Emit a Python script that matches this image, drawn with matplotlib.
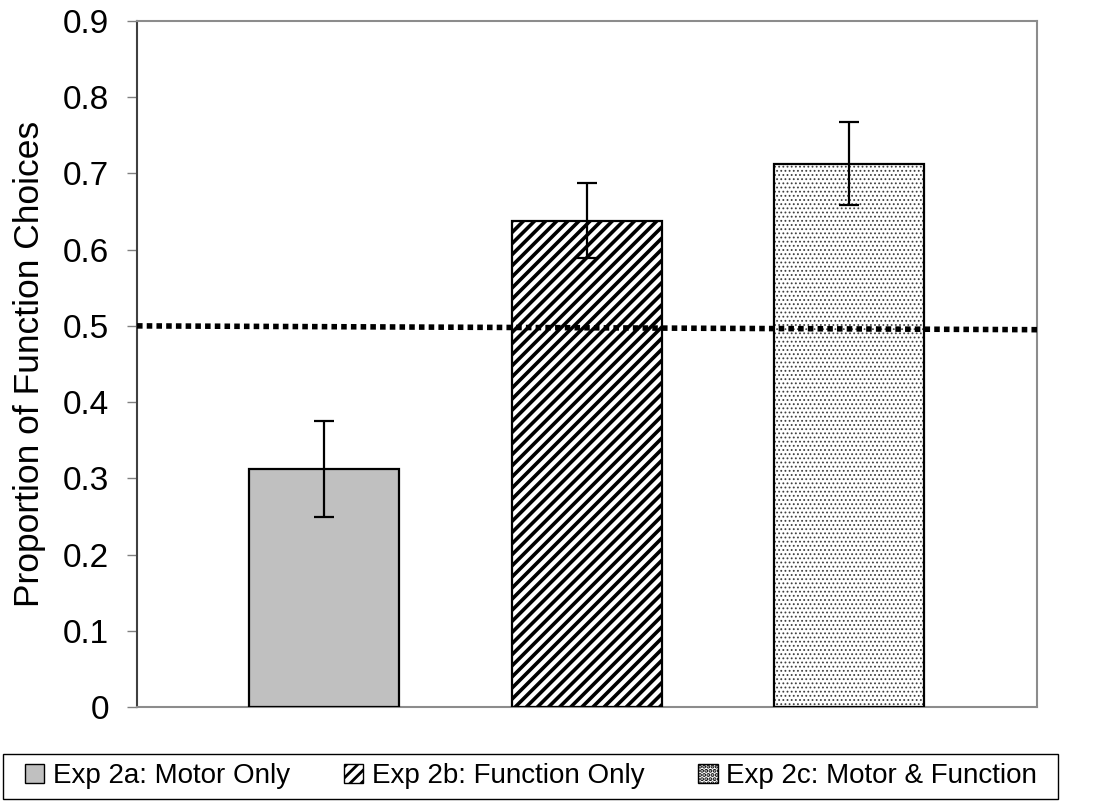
import matplotlib
matplotlib.use("Agg")
import matplotlib.pyplot as plt
from matplotlib.patches import Rectangle
import numpy as np

plt.rcParams['font.family'] = ['Liberation Sans', 'DejaVu Sans']
plt.rcParams['hatch.linewidth'] = 2.0

## data
labels = ["Exp 2a: Motor Only", "Exp 2b: Function Only", "Exp 2c: Motor & Function"]
values = [0.312, 0.638, 0.713]
errors = [0.063, 0.049, 0.055]
chance_x = [-0.712, 2.714]
chance_y = [0.500, 0.495]
yticks = [0, 0.1, 0.2, 0.3, 0.4, 0.5, 0.6, 0.7, 0.8, 0.9]
ytick_labels = ["0", "0.1", "0.2", "0.3", "0.4", "0.5", "0.6", "0.7", "0.8", "0.9"]

faces = ["#c0c0c0", "white", "white"]
hatches = [None, "///", "...."]
hcolors = ["black", "black", "#404040"]
hwidths = [1.0, 2.6, 0.8]


def main():
    fig = plt.figure(figsize=(10.97, 8.02), dpi=100)
    ax = fig.add_axes([0.1249, 0.1185, 0.8204, 0.8553])

    x = np.arange(len(values))
    bars = []
    for i in range(len(values)):
        with plt.rc_context({'hatch.linewidth': hwidths[i]}):
            b = ax.bar(x[i], values[i], width=0.571, color=faces[i], edgecolor=hcolors[i],
                       hatch=hatches[i], linewidth=0, label=labels[i], zorder=2)
        if hasattr(b[0], "set_hatch_linewidth"):
            b[0].set_hatch_linewidth(hwidths[i])
        # outline drawn separately so the hatch colour does not change it
        ax.bar(x[i], values[i], width=0.571, fill=False, edgecolor="black",
               linewidth=1.6, zorder=3)
        bars.append(b)

    ax.errorbar(x, values, yerr=errors, fmt="none", ecolor="black",
                elinewidth=1.6, capsize=7, capthick=1.6, zorder=4)

    ax.plot(chance_x, chance_y, color="black", linewidth=4.0,
            linestyle=(0, (1.0, 0.75)), dash_capstyle="butt", zorder=5, clip_on=False)

    ax.set_xlim(-0.712, 2.714)
    ax.set_ylim(0, 0.9)
    ax.set_yticks(yticks)
    ax.set_yticklabels(ytick_labels)
    ax.set_xticks([])
    ax.tick_params(axis="y", direction="out", length=7, width=1, color="#808080",
                   labelsize=24, pad=13)
    ax.set_ylabel("Proportion of Function Choices", fontsize=25.5, labelpad=12)

    ax.spines["left"].set_color("#404040")
    ax.spines["left"].set_linewidth(1.5)
    for s in ["top", "right", "bottom"]:
        ax.spines[s].set_color("#8c8c8c")
        ax.spines[s].set_linewidth(1.5)

    # legend frame drawn by hand, legend itself without frame
    frame = Rectangle((3 / 1097, 3 / 802), 1055 / 1097, 45 / 802, transform=fig.transFigure,
                      fill=False, edgecolor="black", linewidth=1.0)
    fig.patches.append(frame)

    leg = fig.legend(handles=bars, labels=labels, loc="center", ncol=3,
                     bbox_to_anchor=(531 / 1097, 1 - 776 / 802),
                     fontsize=20, frameon=False,
                     handlelength=0.7, handleheight=0.7, handletextpad=0.3,
                     columnspacing=1.95, borderaxespad=0, borderpad=0)
    for h in leg.legend_handles:
        h.set_linewidth(1.0)
        h.set_edgecolor("black")

    fig.savefig("out.png", dpi=100)


if __name__ == "__main__":
    main()
